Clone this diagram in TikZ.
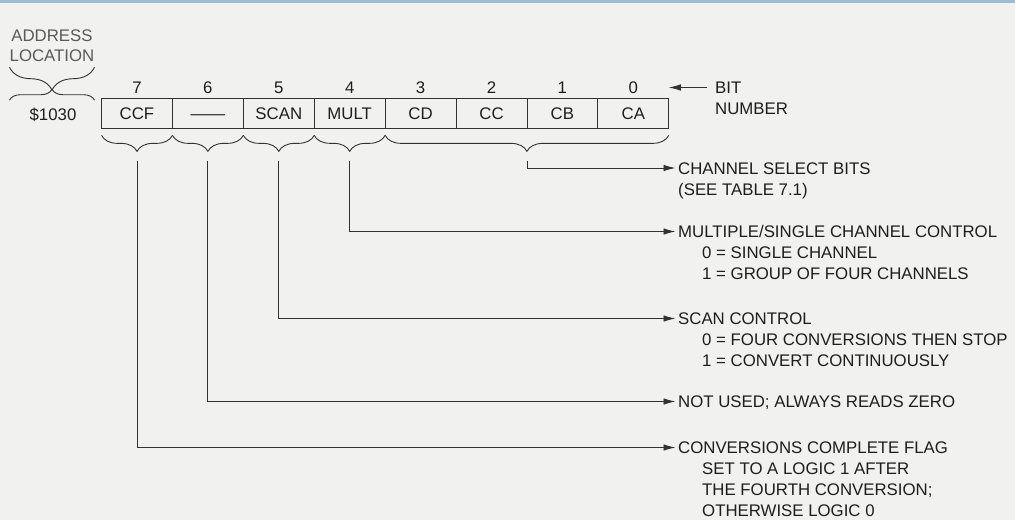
\documentclass[tikz,border=0pt]{standalone}
\usepackage{fontspec}
\setmainfont{Liberation Sans}
\usepackage{graphicx}
\usetikzlibrary{positioning,calc,arrows.meta,decorations.pathreplacing}
\definecolor{regink}{RGB}{30,30,30}
\definecolor{regline}{RGB}{50,50,50}
\definecolor{regfaint}{RGB}{90,90,90}
\definecolor{regpaper}{RGB}{241,241,239}
\definecolor{regframe}{RGB}{157,188,216}

\begin{document}
\begin{tikzpicture}[x=1pt,y=-1pt,
  every node/.style={font=\fontsize{16.8}{20}\selectfont,text=regink,inner sep=0,text height=12pt,text depth=0pt},
  cell/.style={draw=regline,line width=0.9pt,minimum width=70.9pt,minimum height=29.5pt,outer sep=0},
  desc/.style={anchor=west},
  brc/.style={draw=regline,line width=0.9pt,decorate,decoration={brace,amplitude=#1}},
  arr/.style={draw=regline,line width=0.9pt,-{Latex[length=12pt,width=6.5pt]}}]
\fill[regpaper] (0,0) rectangle (1015,520);
\fill[regframe] (0,0) rectangle (1015,3);
\node[text=regfaint] (addr) at (52,35) {ADDRESS};
\node[text=regfaint] (loc) at (52,55) {LOCATION};
\node (base) at (53,114) {\$1030};
\draw[brc=23pt,decoration={mirror}] ([yshift=-6pt]loc.south west) -- ([yshift=-6pt]loc.south east);
\draw[brc=11pt] ($(loc.south west)+(0,39)$) -- ($(loc.south east)+(0,39)$);
\node[cell] (b7) at (137.0,113.6) {CCF};
\node[cell,right=0pt of b7] (b6) {\scalebox{2.05}[1]{—}};
\node[cell,right=0pt of b6] (b5) {SCAN};
\node[cell,right=0pt of b5] (b4) {MULT};
\node[cell,right=0pt of b4] (b3) {CD};
\node[cell,right=0pt of b3] (b2) {CC};
\node[cell,right=0pt of b2] (b1) {CB};
\node[cell,right=0pt of b1] (b0) {CA};
\foreach \b in {7,...,0}
  \node[above=5.5pt of b\b] (n\b) {\b};
\node[desc] (bit) at (715,87.5) {BIT};
\node[desc] (number) at (715,108.5) {NUMBER};
\draw[arr,shorten <=8pt] (bit.west) -- (b0.north east |- bit.west);
\foreach \b in {7,6,5,4}{
  \draw[brc=16pt,decoration={mirror}] ([yshift=-7pt]b\b.south west) -- ([yshift=-7pt]b\b.south east);
  \coordinate (t\b) at ([yshift=-33pt]b\b.south);
}
\draw[brc=16pt,decoration={mirror}] ([yshift=-7pt]b3.south west) -- ([yshift=-7pt]b0.south east);
\coordinate (t0) at ([yshift=-33pt]b1.south west);
\node[desc] (chsel) at (678,168) {CHANNEL SELECT BITS};
\node[desc] (chsel1) at (678,189) {(SEE TABLE 7.1)};
\node[desc] (mult) at (678,231.5) {MULTIPLE/SINGLE CHANNEL CONTROL};
\node[desc] (mult0) at (702,252.5) {0 = SINGLE CHANNEL};
\node[desc] (mult1) at (702,273.5) {1 = GROUP OF FOUR CHANNELS};
\node[desc] (scan) at (678,318.5) {SCAN CONTROL};
\node[desc] (scan0) at (702,339.7) {0 = FOUR CONVERSIONS THEN STOP};
\node[desc] (scan1) at (702,360.9) {1 = CONVERT CONTINUOUSLY};
\node[desc] (unused) at (678,401.5) {NOT USED; ALWAYS READS ZERO};
\node[desc] (ccf) at (678,447.5) {CONVERSIONS COMPLETE FLAG};
\node[desc] (ccf1) at (702,468.5) {SET TO A LOGIC 1 AFTER};
\node[desc] (ccf2) at (702,489.5) {THE FOURTH CONVERSION;};
\node[desc] (ccf3) at (702,510.5) {OTHERWISE LOGIC 0};
\draw[arr,shorten >=2.5pt] (t0) |- (chsel.west);
\draw[arr,shorten >=2.5pt] (t4) |- (mult.west);
\draw[arr,shorten >=2.5pt] (t5) |- (scan.west);
\draw[arr,shorten >=2.5pt] (t6) |- (unused.west);
\draw[arr,shorten >=2.5pt] (t7) |- (ccf.west);
\end{tikzpicture}
\end{document}
